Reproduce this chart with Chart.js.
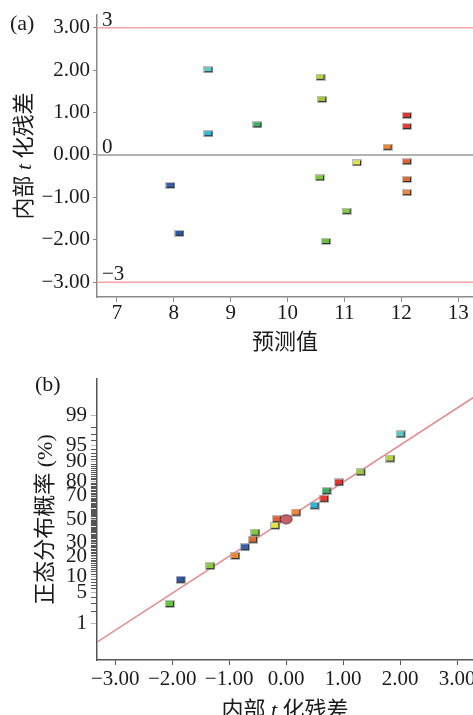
<!DOCTYPE html>
<html>
<head>
<meta charset="utf-8">
<script src="https://cdn.jsdelivr.net/npm/chart.js@4.4.0/dist/chart.umd.min.js"></script>
<style>
  html, body { margin: 0; padding: 0; background: #fff; overflow: hidden; }
  #wrapA { position: absolute; left: 0; top: 0; width: 473px; height: 357px; }
  #wrapB { position: absolute; left: 0; top: 357px; width: 473px; height: 370px; }
</style>
</head>
<body>
<div id="wrapA"><canvas id="chartA"></canvas></div>
<div id="wrapB"><canvas id="chartB"></canvas></div>
<script>
// one entry per run, same order in every array
var predicted = [8.61, 8.61, 9.47, 10.58, 10.61, 10.57, 7.94, 8.10, 10.68, 12.10, 12.10, 11.76, 11.22, 12.10, 12.10, 12.10, 11.04];
var residuals = [2.01, 0.50, 0.71, 1.83, 1.31, -0.54, -0.72, -1.85, -2.04, 0.93, 0.67, 0.18, -0.19, -0.16, -0.58, -0.89, -1.33];
var probability = [97.1, 61.8, 73.5, 91.2, 85.3, 38.2, 26.5, 8.8, 2.9, 79.4, 67.6, 55.9, 44.1, 50.0, 32.4, 20.6, 14.7];
var pointColors = ['#5ec8c6', '#2eb6de', '#3fae62', '#b2d444', '#9cca3c', '#7cc842', '#3460b0', '#2c56a6', '#68c044',
  '#e8322e', '#e83a32', '#f08434', '#e2e444', '#e8602e', '#e06a32', '#f28632', '#86ca40'];

var limitLevels = [3, 0, -3];
var limitLabels = ['3', '0', '\u22123'];
var xTicksA = [7, 8, 9, 10, 11, 12, 13];
var yTicksA = [-3, -2, -1, 0, 1, 2, 3];
var xRangeA = [6.65, 13.26];
var yRangeA = [-3.35, 3.3];

var xTicksB = [-3, -2, -1, 0, 1, 2, 3];
var xRangeB = [-3.32, 3.28];
var probLabels = [1, 5, 10, 20, 30, 50, 70, 80, 90, 95, 99];
var probRange = [0.083, 99.913];
var fitLineX = [-3.5, 3.5];
var fitLineP = [0.19, 99.81];
var centerX = [0];
var centerP = [50];

// residual axis title, the t is set in italic
var residTitle = [['内部 ', false], ['t', true], [' 化残差', false]];

var SERIF = "'Liberation Serif', 'Noto Sans CJK SC', serif";
Chart.defaults.font.family = SERIF;
Chart.defaults.color = '#1a1a1a';

// inverse normal cdf (Acklam), input in percent
function probit(pct) {
  var p = pct / 100;
  var a = [-3.969683028665376e+01, 2.209460984245205e+02, -2.759285104469687e+02, 1.383577518672690e+02, -3.066479806614716e+01, 2.506628277459239e+00];
  var b = [-5.447609879822406e+01, 1.615858368580409e+02, -1.556989798598866e+02, 6.680131188771972e+01, -1.328068155288572e+01];
  var c = [-7.784894002430293e-03, -3.223964580411365e-01, -2.400758277161838e+00, -2.549732539343734e+00, 4.374664141464968e+00, 2.938163982698783e+00];
  var d = [7.784695709041462e-03, 3.224671290700398e-01, 2.445134137142996e+00, 3.754408661907416e+00];
  var pl = 0.02425, q, r;
  if (p < pl) {
    q = Math.sqrt(-2 * Math.log(p));
    return (((((c[0] * q + c[1]) * q + c[2]) * q + c[3]) * q + c[4]) * q + c[5]) / ((((d[0] * q + d[1]) * q + d[2]) * q + d[3]) * q + 1);
  }
  if (p <= 1 - pl) {
    q = p - 0.5;
    r = q * q;
    return (((((a[0] * r + a[1]) * r + a[2]) * r + a[3]) * r + a[4]) * r + a[5]) * q / (((((b[0] * r + b[1]) * r + b[2]) * r + b[3]) * r + b[4]) * r + 1);
  }
  q = Math.sqrt(-2 * Math.log(1 - p));
  return -(((((c[0] * q + c[1]) * q + c[2]) * q + c[3]) * q + c[4]) * q + c[5]) / ((((d[0] * q + d[1]) * q + d[2]) * q + d[3]) * q + 1);
}

function makeMarker(color, w, h) {
  var cv = document.createElement('canvas');
  cv.width = w;
  cv.height = h;
  var g = cv.getContext('2d');
  g.fillStyle = 'rgba(160,160,160,0.7)';
  g.fillRect(0, 0, w, h);
  g.fillStyle = '#2e2e2e';
  g.fillRect(1, 1, w - 2, h - 2);
  g.fillStyle = color;
  g.fillRect(1, 1, w - 3, h - 3);
  return cv;
}

function makeEllipse(color, w, h) {
  var cv = document.createElement('canvas');
  cv.width = w;
  cv.height = h;
  var g = cv.getContext('2d');
  g.beginPath();
  g.ellipse(w / 2, h / 2, w / 2 - 1, h / 2 - 1, 0, 0, Math.PI * 2);
  g.fillStyle = color;
  g.fill();
  g.strokeStyle = '#5a3038';
  g.lineWidth = 1;
  g.stroke();
  return cv;
}

function fmt2(v) {
  return (v < 0 ? '\u2212' : '') + Math.abs(v).toFixed(2);
}

var tickFont = { family: SERIF, size: 21, lineHeight: 1 };
var titleFont = { family: SERIF, size: 22, lineHeight: 1 };

var panelLabel = {
  id: 'panelLabel',
  afterDraw: function(chart, args, opts) {
    var ctx = chart.ctx;
    ctx.save();
    ctx.font = '22px ' + SERIF;
    ctx.fillStyle = '#1a1a1a';
    ctx.textBaseline = 'middle';
    ctx.fillText(opts.text, opts.x, opts.y);
    ctx.restore();
  }
};

// axis title made of pieces, some italic
var mixedTitle = {
  id: 'mixedTitle',
  afterDraw: function(chart, args, opts) {
    var s = chart.scales[opts.axis];
    var ctx = chart.ctx;
    var area = chart.chartArea;
    var vertical = !s.isHorizontal();
    var half = titleFont.size / 2;
    var cx, cy;
    if (vertical) {
      cx = s.left + half + opts.pad;
      cy = (area.top + area.bottom) / 2;
    } else {
      cx = (area.left + area.right) / 2;
      cy = s.bottom - half - opts.pad;
    }
    ctx.save();
    ctx.fillStyle = '#1a1a1a';
    ctx.textBaseline = 'middle';
    var total = 0;
    opts.parts.forEach(function(pt) {
      ctx.font = (pt[1] ? 'italic ' : '') + titleFont.size + 'px ' + SERIF;
      total += ctx.measureText(pt[0]).width;
    });
    ctx.translate(cx, cy);
    if (vertical) ctx.rotate(-Math.PI / 2);
    var x = -total / 2;
    opts.parts.forEach(function(pt) {
      ctx.font = (pt[1] ? 'italic ' : '') + titleFont.size + 'px ' + SERIF;
      ctx.fillText(pt[0], x, 0);
      x += ctx.measureText(pt[0]).width;
    });
    ctx.restore();
  }
};

var limitText = {
  id: 'limitText',
  afterDatasetsDraw: function(chart) {
    if (chart.canvas.id !== 'chartA') return;
    var ctx = chart.ctx;
    var ys = chart.scales.y;
    ctx.save();
    ctx.font = '21px ' + SERIF;
    ctx.fillStyle = '#1a1a1a';
    ctx.textBaseline = 'alphabetic';
    limitLevels.forEach(function(lv, i) {
      ctx.fillText(limitLabels[i], chart.chartArea.left + 5, ys.getPixelForValue(lv) - 2);
    });
    ctx.restore();
  }
};

// ---------- panel (a) ----------
var pointsA = predicted.map(function(x, i) { return { x: x, y: residuals[i] }; });
var markersA = pointColors.map(function(c) { return makeMarker(c, 10, 7); });

var limitSets = limitLevels.map(function(lv) {
  return {
    type: 'line',
    data: [{ x: xRangeA[0], y: lv }, { x: xRangeA[1], y: lv }],
    borderColor: lv === 0 ? '#9a9a9a' : '#f4a4a4',
    borderWidth: 1.5,
    pointRadius: 0,
    order: 5
  };
});

new Chart(document.getElementById('chartA'), {
  type: 'scatter',
  data: {
    datasets: [{
      data: pointsA,
      pointStyle: markersA,
      pointRadius: 5,
      order: 1
    }].concat(limitSets)
  },
  options: {
    responsive: true,
    maintainAspectRatio: false,
    animation: false,
    layout: { autoPadding: false, padding: { top: 15, right: 0, left: 0, bottom: 0 } },
    plugins: {
      legend: { display: false },
      tooltip: { enabled: false },
      panelLabel: { text: '(a)', x: 10, y: 24 },
      mixedTitle: { axis: 'y', parts: residTitle, pad: 14 }
    },
    scales: {
      x: {
        type: 'linear',
        min: xRangeA[0],
        max: xRangeA[1],
        border: { color: '#8a8a8a', width: 1.5 },
        grid: { display: true, drawOnChartArea: false, tickLength: 5, tickColor: '#8a8a8a' },
        ticks: { font: tickFont, padding: 1, color: '#1a1a1a' },
        afterBuildTicks: function(s) { s.ticks = xTicksA.map(function(v) { return { value: v }; }); },
        afterFit: function(s) { s.height = 60; s.paddingLeft = 0; s.paddingRight = 0; },
        title: { display: true, text: '预测值', font: titleFont, padding: { top: 0, bottom: 3 } }
      },
      y: {
        type: 'linear',
        min: yRangeA[0],
        max: yRangeA[1],
        border: { color: '#8a8a8a', width: 1.5 },
        grid: { display: true, drawOnChartArea: false, tickLength: 4, tickColor: '#8a8a8a' },
        ticks: { font: tickFont, padding: 3, color: '#1a1a1a', callback: function(v) { return fmt2(v); } },
        afterBuildTicks: function(s) { s.ticks = yTicksA.map(function(v) { return { value: v }; }); },
        afterFit: function(s) { s.width = 97; s.paddingTop = 0; s.paddingBottom = 0; }
      }
    }
  },
  plugins: [panelLabel, limitText, mixedTitle]
});

// ---------- panel (b) ----------
var pointsB = residuals.map(function(r, i) { return { x: r, y: probit(probability[i]) }; });
var markersB = pointColors.map(function(c) { return makeMarker(c, 10, 8); });
var fitPts = fitLineX.map(function(x, i) { return { x: x, y: probit(fitLineP[i]) }; });
var centerPts = centerX.map(function(x, i) { return { x: x, y: probit(centerP[i]) }; });

var probTicks = [];
for (var pp = 1; pp <= 99; pp++) probTicks.push(pp);

new Chart(document.getElementById('chartB'), {
  type: 'scatter',
  data: {
    datasets: [{
      data: centerPts,
      pointStyle: makeEllipse('#c8606c', 14, 11),
      pointRadius: 6,
      order: 0
    }, {
      data: pointsB,
      pointStyle: markersB,
      pointRadius: 5,
      order: 1
    }, {
      type: 'line',
      data: fitPts,
      borderColor: '#e48c90',
      borderWidth: 1.5,
      pointRadius: 0,
      order: 5
    }]
  },
  options: {
    responsive: true,
    maintainAspectRatio: false,
    animation: false,
    layout: { autoPadding: false, padding: { top: 22, right: 0, left: 0, bottom: 0 } },
    plugins: {
      legend: { display: false },
      tooltip: { enabled: false },
      panelLabel: { text: '(b)', x: 35, y: 28 },
      mixedTitle: { axis: 'x', parts: residTitle, pad: 5 }
    },
    scales: {
      x: {
        type: 'linear',
        min: xRangeB[0],
        max: xRangeB[1],
        border: { color: '#555', width: 1.5 },
        grid: { display: true, drawOnChartArea: false, tickLength: 5, tickColor: '#555' },
        ticks: { font: tickFont, padding: 4, color: '#1a1a1a', maxRotation: 0, autoSkip: false, callback: function(v) { return fmt2(v); } },
        afterBuildTicks: function(s) { s.ticks = xTicksB.map(function(v) { return { value: v }; }); },
        afterFit: function(s) { s.height = 67; s.paddingLeft = 0; s.paddingRight = 0; }
      },
      y: {
        type: 'linear',
        min: probit(probRange[0]),
        max: probit(probRange[1]),
        border: { color: '#555', width: 1.5 },
        grid: {
          display: true,
          drawOnChartArea: false,
          tickLength: 6,
          tickColor: function(ctx) {
            return ctx.tick && probLabels.indexOf(ctx.tick.p) >= 0 ? '#b8b8b8' : '#555';
          }
        },
        ticks: {
          font: tickFont,
          padding: 4,
          color: '#1a1a1a',
          autoSkip: false,
          callback: function(v, i, ticks) {
            var p = ticks[i].p;
            return probLabels.indexOf(p) >= 0 ? String(p) : '';
          }
        },
        afterBuildTicks: function(s) { s.ticks = probTicks.map(function(p) { return { value: probit(p), p: p }; }); },
        afterFit: function(s) { s.width = 97; s.paddingTop = 0; s.paddingBottom = 0; },
        title: { display: true, text: '正态分布概率 (%)', font: titleFont, padding: { top: 35, bottom: 0 } }
      }
    }
  },
  plugins: [panelLabel, mixedTitle]
});
</script>
</body>
</html>
